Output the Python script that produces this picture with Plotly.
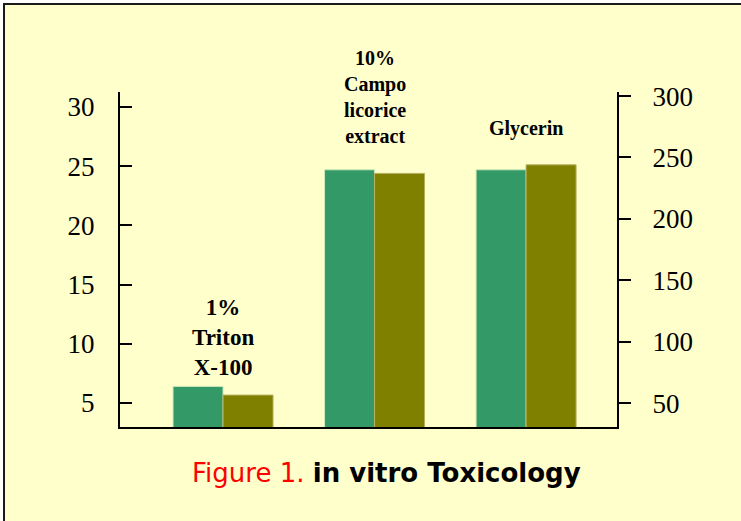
import plotly.graph_objects as go

categories = ["1%<br>Triton<br>X-100", "10%<br>Campo<br>licorice<br>extract", "Glycerin"]
left_values = [6.4, 24.7, 24.7]        # green bars, left axis
right_values = [56.5, 237, 244]        # olive bars, right axis
left_ticks = [5, 10, 15, 20, 25, 30]
right_ticks = [50, 100, 150, 200, 250, 300]
xpos = [0, 1, 2]

BG = "#FFFFCC"
GREEN = "#339966"
OLIVE = "#808000"

fig = go.Figure()
fig.add_trace(go.Bar(x=xpos, y=left_values, yaxis="y", offsetgroup="a",
                     marker=dict(color=GREEN, line=dict(color="#cfe8b8", width=1)),
                     showlegend=False, hoverinfo="skip"))
fig.add_trace(go.Bar(x=xpos, y=right_values, yaxis="y2", offsetgroup="b",
                     marker=dict(color=OLIVE, line=dict(color="#b8b060", width=1)),
                     showlegend=False, hoverinfo="skip"))

W, H = 741, 521
L, R, T, B = 120, 124, 92, 94
pw, ph = W - L - R, H - T - B

def px(x):
    return (x - L) / pw

def py(y):
    return (H - B - y) / ph

# frame
fig.add_shape(type="rect", xref="paper", yref="paper",
              x0=px(4), x1=px(760), y0=py(540), y1=py(4),
              fillcolor=BG, line=dict(color="#1a1a1a", width=2), layer="below")

# category labels
label_font = dict(family="Liberation Serif", color="black")
fig.add_annotation(x=0, xref="x", y=py(337), yref="paper", text="<b>" + categories[0] + "</b>",
                   showarrow=False, font=dict(size=23, **label_font), align="center",
                   yanchor="middle")
fig.add_annotation(x=1, xref="x", y=py(97), yref="paper", text="<b>" + categories[1] + "</b>",
                   showarrow=False, font=dict(size=20, **label_font), align="center",
                   yanchor="middle")
fig.add_annotation(x=2, xref="x", y=py(128), yref="paper", text="<b>" + categories[2] + "</b>",
                   showarrow=False, font=dict(size=20, **label_font), align="center",
                   yanchor="middle")

# figure caption
fig.add_annotation(x=px(386), xref="paper", y=py(473), yref="paper",
                   text="<span style='color:#FF0000'>Figure 1.</span> <b>in vitro Toxicology</b>",
                   showarrow=False, font=dict(family="DejaVu Sans", size=26, color="black"),
                   yanchor="middle")

tick_font = dict(family="Liberation Serif", size=27, color="black")

fig.update_layout(
    width=W, height=H,
    margin=dict(l=L, r=R, t=T, b=B, pad=0),
    paper_bgcolor="white",
    plot_bgcolor="rgba(0,0,0,0)",
    barmode="group",
    bargap=0.34,
    bargroupgap=0,
    xaxis=dict(range=[-0.68, 2.6], showticklabels=False, ticks="", showgrid=False,
               zeroline=False, showline=True, linecolor="black", linewidth=2),
    yaxis=dict(range=[2.97, 31.27], tickvals=left_ticks, ticktext=[str(v) for v in left_ticks],
               ticks="inside", ticklen=12, tickwidth=2, tickcolor="black",
               showgrid=False, zeroline=False, showline=True, linecolor="black", linewidth=2,
               tickfont=tick_font, ticklabelstandoff=18),
    yaxis2=dict(range=[30.5, 303.3], overlaying="y", side="right",
                tickvals=right_ticks, ticktext=[str(v) for v in right_ticks],
                ticks="outside", ticklen=12, tickwidth=2, tickcolor="black",
                showgrid=False, zeroline=False, showline=True, linecolor="black", linewidth=2,
                tickfont=tick_font, ticklabelstandoff=16),
)

fig.write_html("out.html", config={"displayModeBar": False},
               post_script="document.body.style.margin='0';")
